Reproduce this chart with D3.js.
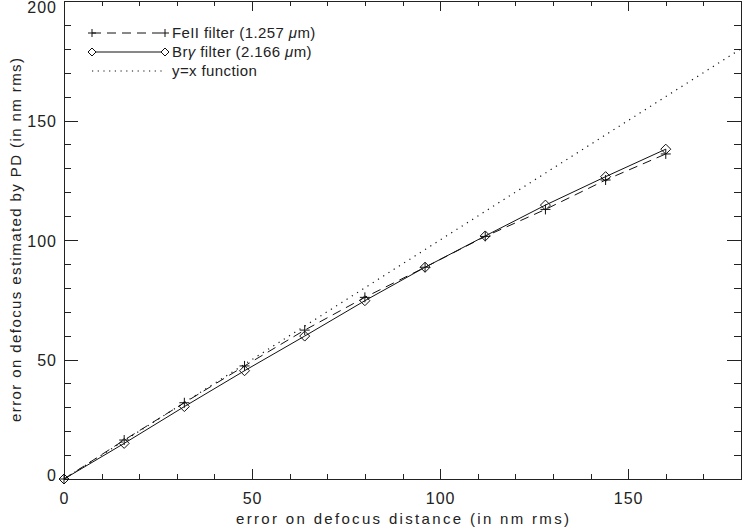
<!DOCTYPE html>
<html>
<head>
<meta charset="utf-8">
<script src="https://cdn.jsdelivr.net/npm/d3@7"></script>
<style>
    body { margin: 0; background: #fff; }
    svg { font-family: "Liberation Sans", Arial, sans-serif; }
    .axis path, .axis line { stroke: #222; stroke-width: 1px; shape-rendering: crispEdges; }
    .axis text { font-size: 16px; fill: #222; letter-spacing: 1px; }
    .title { font-size: 15px; fill: #222; }
    .legend text { font-size: 15px; fill: #222; letter-spacing: 0.4px; }
</style>
</head>
<body>
<div id="chart"></div>
<script>
    // defocus distance error (nm rms) and the PD estimate for each filter
    var distance    = [0, 16, 32, 48, 64, 80, 96, 112, 128, 144, 160];
    var fe2Estimate = [0, 16.3, 31.9, 47.3, 62.3, 76, 88.6, 101.5, 112.8, 125.1, 136];
    var brgEstimate = [0, 14.9, 30.3, 45.3, 59.8, 74.6, 88.6, 101.7, 114.6, 126.5, 138];
    var identity    = [0, 180];

    var xTicks = [0, 50, 100, 150];
    var yTicks = [0, 50, 100, 150, 200];
    var xMinor = d3.range(0, 181, 10);
    var yMinor = d3.range(0, 201, 10);

    var width = 742, height = 530;
    var pLeft = 64, pRight = 741, pTop = 1, pBottom = 479;

    var svg = d3.select("#chart").append("svg")
        .attr("width", width)
        .attr("height", height);

    var x = d3.scaleLinear().domain([0, 180]).range([pLeft, pRight]);
    var y = d3.scaleLinear().domain([0, 200]).range([pBottom, pTop]);

    /* ------- AXES -------*/
    function blank() { return ""; }

    svg.append("g").attr("class", "axis")
        .attr("transform", "translate(0," + pBottom + ")")
        .call(d3.axisBottom(x).tickValues(xMinor).tickSize(-5).tickSizeOuter(0).tickFormat(blank));
    svg.append("g").attr("class", "axis")
        .attr("transform", "translate(0," + pBottom + ")")
        .call(d3.axisBottom(x).tickValues(xTicks).tickSize(-10).tickSizeOuter(0).tickPadding(14));

    svg.append("g").attr("class", "axis")
        .attr("transform", "translate(0," + pTop + ")")
        .call(d3.axisTop(x).tickValues(xMinor).tickSize(-5).tickSizeOuter(0).tickFormat(blank));
    svg.append("g").attr("class", "axis")
        .attr("transform", "translate(0," + pTop + ")")
        .call(d3.axisTop(x).tickValues(xTicks).tickSize(-10).tickSizeOuter(0).tickFormat(blank));

    svg.append("g").attr("class", "axis")
        .attr("transform", "translate(" + pLeft + ",0)")
        .call(d3.axisLeft(y).tickValues(yMinor).tickSize(-7).tickSizeOuter(0).tickFormat(blank));
    var yAxis = svg.append("g").attr("class", "axis")
        .attr("transform", "translate(" + pLeft + ",0)")
        .call(d3.axisLeft(y).tickValues(yTicks).tickSize(-14).tickSizeOuter(0).tickPadding(7));
    // keep end labels inside the picture like the original
    yAxis.selectAll(".tick text")
        .attr("y", function(d) { return d === 200 ? 6 : (d === 0 ? -4 : 1); });

    svg.append("g").attr("class", "axis")
        .attr("transform", "translate(" + pRight + ",0)")
        .call(d3.axisRight(y).tickValues(yMinor).tickSize(-7).tickSizeOuter(0).tickFormat(blank));
    svg.append("g").attr("class", "axis")
        .attr("transform", "translate(" + pRight + ",0)")
        .call(d3.axisRight(y).tickValues(yTicks).tickSize(-14).tickSizeOuter(0).tickFormat(blank));

    svg.append("text").attr("class", "title")
        .attr("x", (pLeft + pRight) / 2).attr("y", 524)
        .attr("text-anchor", "middle")
        .attr("textLength", 333).attr("lengthAdjust", "spacing")
        .text("error on defocus distance (in nm rms)");

    svg.append("text").attr("class", "title")
        .attr("transform", "translate(21," + (pTop + pBottom) / 2 + ") rotate(-90)")
        .attr("text-anchor", "middle")
        .attr("textLength", 364).attr("lengthAdjust", "spacing")
        .text("error on defocus estimated by PD (in nm rms)");

    /* ------- MARKERS -------*/
    function plusPath(r) {
        return "M" + (-r) + ",0H" + r + "M0," + (-r) + "V" + r;
    }
    function diamondPath(r) {
        return "M0," + (-r) + "L" + r + ",0L0," + r + "L" + (-r) + ",0Z";
    }

    /* ------- LINES -------*/
    var plot = svg.append("g");

    var line = d3.line()
        .x(function(d) { return x(d[0]); })
        .y(function(d) { return y(d[1]); });

    plot.append("path")
        .attr("d", line(identity.map(function(v) { return [v, v]; })))
        .attr("fill", "none").attr("stroke", "#111").attr("stroke-width", 1.2)
        .attr("stroke-dasharray", "1.2,5");

    plot.append("path")
        .attr("d", line(d3.zip(distance, fe2Estimate)))
        .attr("fill", "none").attr("stroke", "#111").attr("stroke-width", 1)
        .attr("stroke-dasharray", "9,6");

    plot.append("path")
        .attr("d", line(d3.zip(distance, brgEstimate)))
        .attr("fill", "none").attr("stroke", "#111").attr("stroke-width", 1);

    plot.selectAll("path.plus")
        .data(d3.zip(distance, fe2Estimate))
        .enter().append("path")
        .attr("class", "plus")
        .attr("transform", function(d) { return "translate(" + x(d[0]) + "," + y(d[1]) + ")"; })
        .attr("d", plusPath(5))
        .attr("fill", "none").attr("stroke", "#111");

    plot.selectAll("path.diamond")
        .data(d3.zip(distance, brgEstimate))
        .enter().append("path")
        .attr("class", "diamond")
        .attr("transform", function(d) { return "translate(" + x(d[0]) + "," + y(d[1]) + ")"; })
        .attr("d", diamondPath(5))
        .attr("fill", "none").attr("stroke", "#111");

    /* ------- LEGEND -------*/
    var legend = svg.append("g").attr("class", "legend");
    var lx0 = 92, lx1 = 165, tx = 172;

    var entries = [
        { base: 37.5, parts: [["FeII filter (1.257 ", ""], ["\u03bc", "italic"], ["m)", ""]], dash: "9,6", marker: plusPath(4) },
        { base: 56.5, parts: [["Br", ""], ["\u03b3", "italic"], [" filter (2.166 ", ""], ["\u03bc", "italic"], ["m)", ""]], dash: null, marker: diamondPath(4) },
        { base: 75.5, parts: [["y=x function", ""]], dash: "1.2,4.5", marker: null }
    ];

    entries.forEach(function(e) {
        var cy = e.base - 4.5;
        legend.append("line")
            .attr("x1", lx0).attr("x2", lx1).attr("y1", cy).attr("y2", cy)
            .attr("stroke", "#111").attr("stroke-width", e.marker ? 1 : 1.2)
            .attr("stroke-dasharray", e.dash);
        if (e.marker) {
            [lx0, lx1].forEach(function(mx) {
                legend.append("path")
                    .attr("transform", "translate(" + mx + "," + cy + ")")
                    .attr("d", e.marker)
                    .attr("fill", "#fff").attr("stroke", "#111");
            });
        }
        var t = legend.append("text")
            .attr("x", tx).attr("y", e.base);
        e.parts.forEach(function(p) {
            t.append("tspan").attr("font-style", p[1] || null).text(p[0]);
        });
    });
</script>
</body>
</html>
